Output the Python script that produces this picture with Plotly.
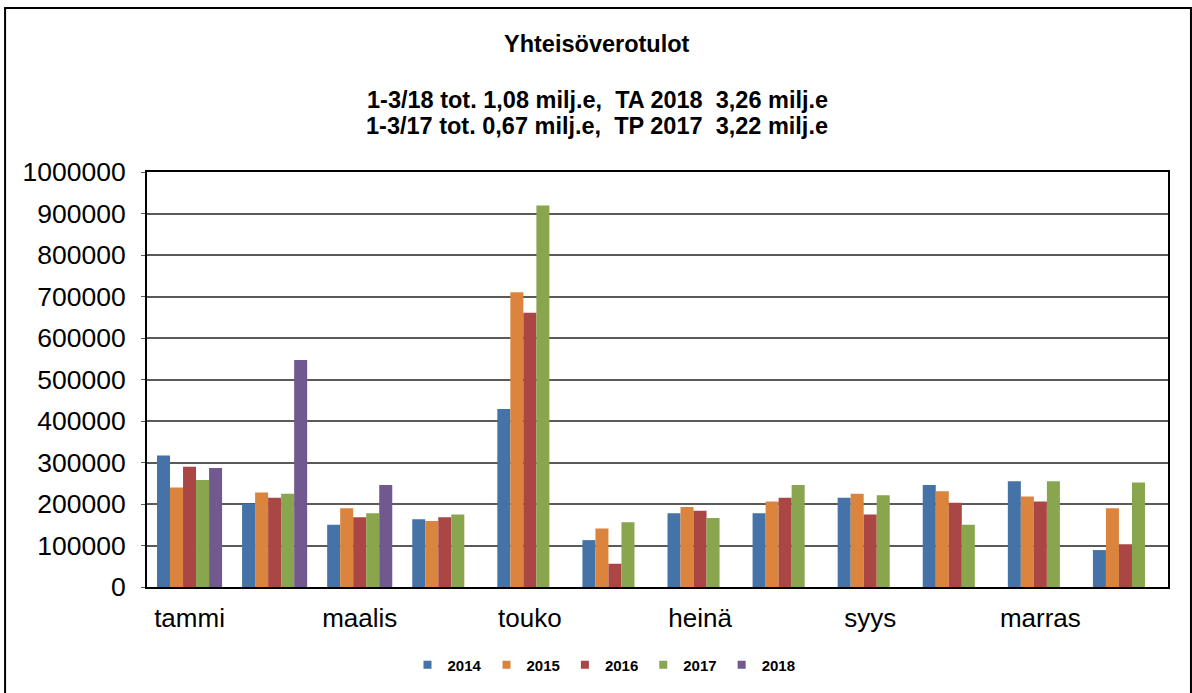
import plotly.graph_objects as go

months = ['tammi', 'helmi', 'maalis', 'huhti', 'touko', 'kesä',
          'heinä', 'elo', 'syys', 'loka', 'marras', 'joulu']
shown_labels = ['tammi', 'maalis', 'touko', 'heinä', 'syys', 'marras']

v2014 = [317000, 200000, 150000, 163000, 429000, 113000, 178000, 178000, 215000, 246000, 255000, 89000]
v2015 = [240000, 228000, 190000, 159000, 710000, 141000, 193000, 206000, 225000, 231000, 218000, 190000]
v2016 = [290000, 215000, 168000, 168000, 661000, 56000, 184000, 215000, 175000, 203000, 206000, 103000]
v2017 = [258000, 225000, 178000, 175000, 919000, 156000, 166000, 246000, 221000, 150000, 255000, 252000]
v2018 = [287000, 547000, 246000]

series = [
    ('2014', v2014, '#4572A7'),
    ('2015', v2015, '#DB843D'),
    ('2016', v2016, '#AA4643'),
    ('2017', v2017, '#89A54E'),
    ('2018', v2018, '#71588F'),
]

FONT = 'Arial, Liberation Sans, sans-serif'

fig = go.Figure()
for name, vals, color in series:
    fig.add_trace(go.Bar(
        x=months[:len(vals)],
        y=vals,
        name=name,
        marker=dict(color=color, line=dict(width=0)),
        showlegend=False,
    ))

# small square legend keys, like the original
for name, vals, color in series:
    fig.add_trace(go.Scatter(
        x=[None], y=[None], mode='markers', name=name,
        marker=dict(symbol='square', size=8, color=color),
    ))

fig.update_layout(
    width=1192,
    height=693,
    barmode='group',
    bargap=0.235,
    bargroupgap=0,
    plot_bgcolor='white',
    paper_bgcolor='white',
    margin=dict(l=147, r=24, t=172, b=106),
    font=dict(family=FONT, color='black'),
    showlegend=True,
    legend=dict(
        orientation='h',
        x=0.4476, xanchor='center',
        y=-0.188, yanchor='middle',
        font=dict(size=15, family=FONT, weight='bold'),
        itemwidth=30,
    ),
    annotations=[
        dict(text='<b>Yhteisöverotulot</b>', xref='paper', yref='paper',
             x=0.441, y=1.308, yanchor='middle', showarrow=False, font=dict(size=23.5)),
        dict(text='<b>1-3/18 tot. 1,08 milj.e,  TA 2018  3,26 milj.e</b>', xref='paper', yref='paper',
             x=0.441, y=1.1735, yanchor='middle', showarrow=False, font=dict(size=23.5)),
        dict(text='<b>1-3/17 tot. 0,67 milj.e,  TP 2017  3,22 milj.e</b>', xref='paper', yref='paper',
             x=0.441, y=1.111, yanchor='middle', showarrow=False, font=dict(size=23.5)),
    ],
    shapes=[
        dict(type='rect', xref='paper', yref='paper',
             x0=-0.139, x1=1.0225, y0=-0.4, y1=1.395,
             line=dict(color='black', width=2), layer='below'),
    ],
)

fig.update_xaxes(
    categoryorder='array', categoryarray=months,
    tickmode='array', tickvals=shown_labels, ticktext=shown_labels,
    tickfont=dict(size=26),
    ticklabelstandoff=7,
    showline=True, linecolor='black', linewidth=2, mirror=True,
    showgrid=False, ticks='',
)
fig.update_yaxes(
    range=[0, 1000000], dtick=100000, tickformat='d',
    tickfont=dict(size=26.5),
    ticklabelstandoff=10,
    showline=True, linecolor='black', linewidth=2, mirror=True,
    showgrid=True, gridcolor='#5a5a5a', gridwidth=2,
    ticks='outside', ticklen=4, tickcolor='#5a5a5a',
    zeroline=False,
)

fig.write_html('out.html', config={'displayModeBar': False},
               post_script="document.body.style.margin='0';")
